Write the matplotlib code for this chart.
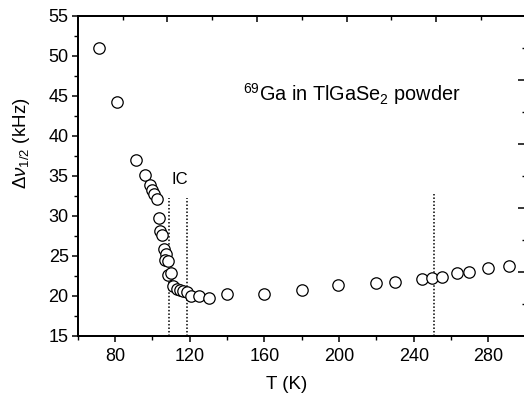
import matplotlib
matplotlib.use("Agg")
import matplotlib.pyplot as plt
from matplotlib.ticker import MultipleLocator

plt.rcParams['font.family'] = ['Liberation Sans', 'DejaVu Sans']
plt.rcParams['mathtext.fontset'] = 'custom'
plt.rcParams['mathtext.rm'] = 'Liberation Sans'
plt.rcParams['mathtext.it'] = 'Liberation Sans:italic'

# temperature (K) and line width (kHz)
temp = [71.2, 81.2, 91.2, 96.2, 98.7, 99.6, 100.9, 102.3,
        103.4, 104.0, 105.2, 106.2, 107.5, 106.5, 108.5, 108.6, 110.0,
        110.9, 113.0, 114.8, 116.6, 118.4, 120.7, 125.2, 130.3, 140.1,
        159.8, 180.0, 199.6, 219.8, 229.8, 244.6, 250.0, 255.3, 263.0,
        269.8, 279.8, 290.9]
width = [50.98, 44.3, 37.06, 35.1, 33.85, 33.3, 32.7, 32.15,
         29.75, 28.1, 27.6, 25.9, 25.3, 24.45, 24.4, 22.65, 22.85,
         21.3, 20.9, 20.8, 20.65, 20.5, 19.95, 19.95, 19.7, 20.3,
         20.3, 20.7, 21.35, 21.6, 21.7, 22.14, 22.2, 22.4, 22.85,
         23.0, 23.45, 23.8]

# dotted markers of the transitions
trans_T = [108.8, 118.4, 251.0]
trans_top = [32.3, 32.2, 32.7]

fig = plt.figure(figsize=(5.24, 4.0), dpi=100)
ax = fig.add_axes([77.7 / 524, 1 - 336 / 400, 448 / 524, 320 / 400])

ax.plot(temp, width, 'o', mfc='white', mec='black', ms=8.2, mew=0.9, zorder=3)
for t, top in zip(trans_T, trans_top):
    ax.plot([t, t], [15, top], color='black', ls=(0, (1, 1.3)), lw=1.1, zorder=2)

ax.text(110.3, 34.6, 'IC', fontsize=12, va='center', ha='left')
ax.text(148.5, 45.2, r'$^{69}$Ga in TlGaSe$_2$ powder', fontsize=14.3,
        va='center', ha='left')

ax.set_xlim(60, 300)
ax.set_ylim(15, 55)
ax.xaxis.set_minor_locator(MultipleLocator(20))
ax.yaxis.set_major_locator(MultipleLocator(5))
ax.yaxis.set_minor_locator(MultipleLocator(2.5))
ax.set_xticks([80, 120, 160, 200, 240, 280])
ax.tick_params(which='major', direction='out', length=4.5, width=1.1,
               labelsize=13, top=False, right=False)
ax.tick_params(which='minor', direction='out', length=3, width=1.0,
               top=False, right=False)
ax.tick_params(axis='x', which='major', pad=4)
ax.tick_params(axis='y', which='major', pad=2)

ax.set_xlabel('T (K)', fontsize=13.5)
ax.xaxis.set_label_coords(0.467, -0.125)
ax.set_ylabel(r'$\Delta\nu_{1/2}$ (kHz)', fontsize=13.5)
ax.yaxis.set_label_coords(-0.103, 0.603)

# second scale on top and right, ticks only
axt = ax.twiny()
axt.set_xlim(0, 10)
axt.xaxis.set_major_locator(MultipleLocator(2))
axt.xaxis.set_minor_locator(MultipleLocator(1))
axt.tick_params(which='major', direction='in', length=4.5, width=1.1, labeltop=False)
axt.tick_params(which='minor', direction='in', length=2.8, width=1.0)

axr = ax.twinx()
axr.set_ylim(0, 10)
axr.yaxis.set_major_locator(MultipleLocator(2))
axr.yaxis.set_minor_locator(MultipleLocator(1))
axr.tick_params(which='major', direction='in', length=5.5, width=1.1, labelright=False)
axr.tick_params(which='minor', direction='in', length=2.8, width=1.0)

for a in (ax, axt, axr):
    for s in a.spines.values():
        s.set_linewidth(1.2)

fig.savefig('out.png', dpi=100)
